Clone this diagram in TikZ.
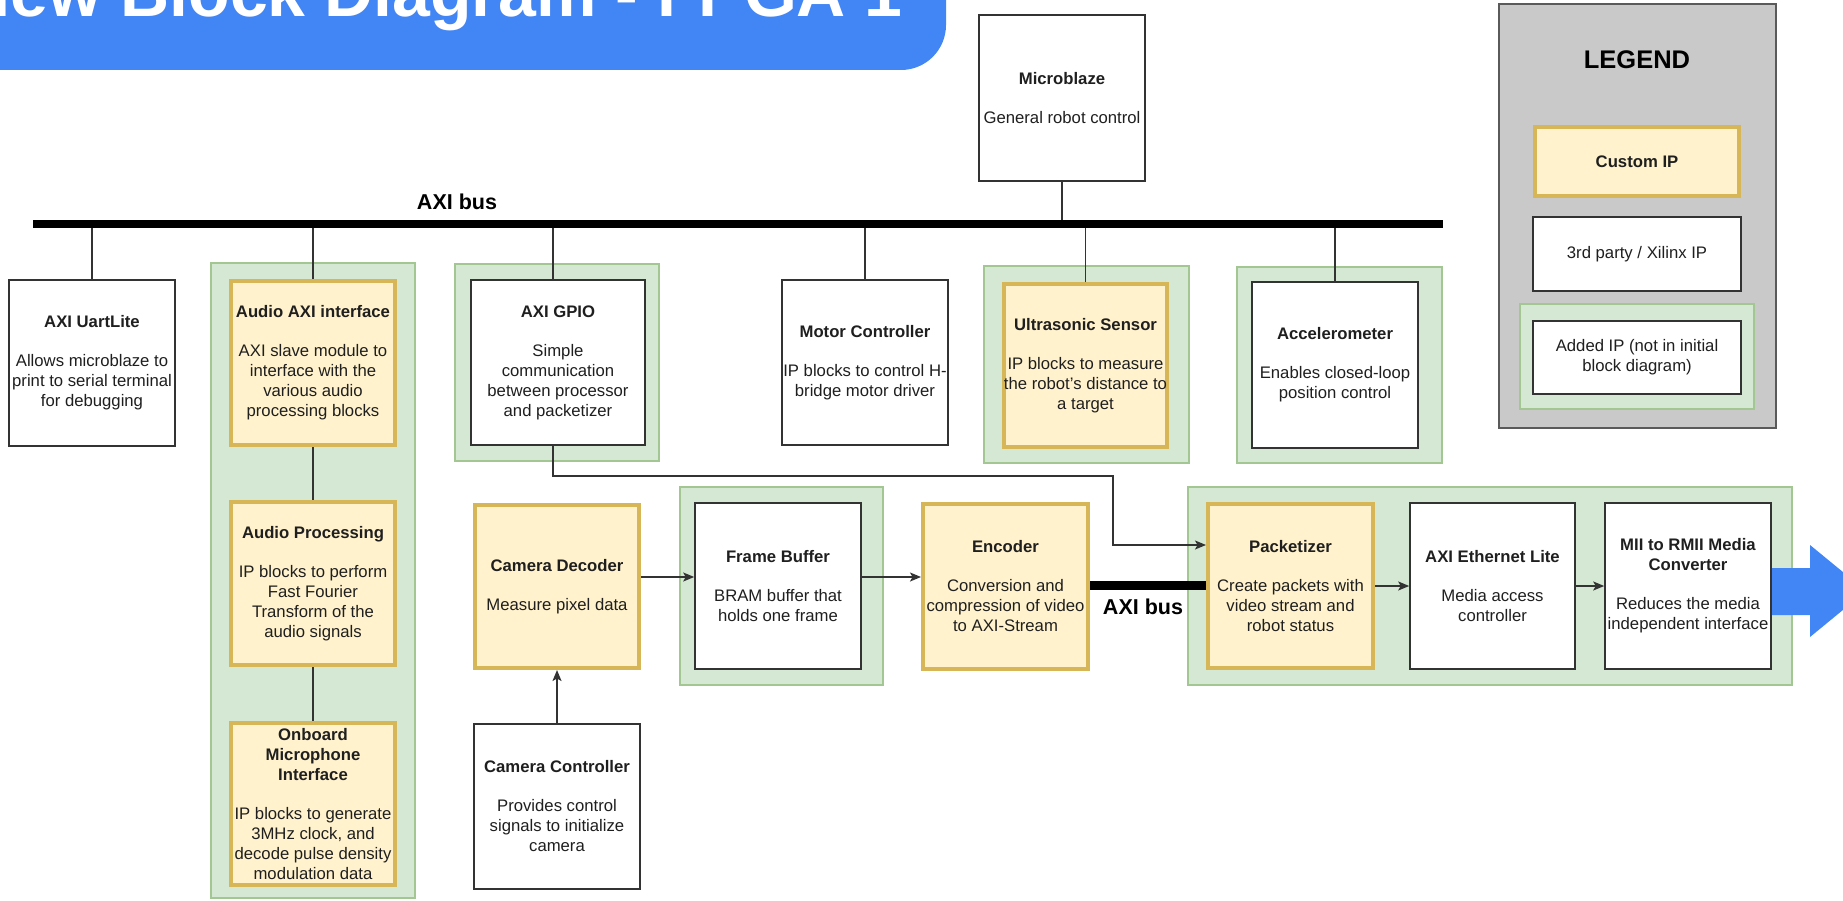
\documentclass[tikz,border=0pt]{standalone}
\usepackage{fontspec}
\setmainfont{Liberation Sans}
\usetikzlibrary{arrows.meta}

\definecolor{tblue}{HTML}{4285F4}
\definecolor{gfill}{HTML}{D5E8D4}
\definecolor{gdraw}{HTML}{A3C793}
\definecolor{yfill}{HTML}{FFF2CC}
\definecolor{ydraw}{HTML}{D6B656}
\definecolor{lgfill}{HTML}{C9C9C9}
\definecolor{lgdraw}{HTML}{5A5A5A}

\newcommand{\hd}[1]{\textbf{#1}}

\begin{document}
\begin{tikzpicture}[x=1pt,y=-1pt,
  ipbox/.style={align=center, inner sep=0pt, font=\fontsize{16.7}{20}\selectfont, text=black!88},
  wbox/.style={ipbox, draw=black!80, line width=1.6pt, fill=white},
  ybox/.style={ipbox, draw=ydraw, line width=4pt, fill=yfill},
  sz/.style 2 args={minimum width=#1pt, minimum height=#2pt},
  grp/.style={draw=gdraw, line width=1.2pt, fill=gfill},
  link/.style={draw=black!80, line width=1.5pt},
  arr/.style={link, -{Stealth[length=11pt,width=9pt,inset=2.5pt]}},
  bus/.style={line width=8pt, black},
  buslabel/.style={font=\fontsize{21.5}{24}\selectfont\bfseries},
]
\useasboundingbox (0,0) rectangle (1843,901);
\clip (0,0) rectangle (1843,901);

% title banner
\fill[tblue, rounded corners=45pt] (-120,-120) rectangle (946,70);
\node[anchor=base east, inner sep=0pt, text=white,
      font=\fontsize{68}{70}\selectfont\bfseries] (title) at (903,17) {New Block Diagram - FPGA 1};

% green groups (IP added later)
\draw[grp] (211,263) rectangle (415,898);
\draw[grp] (455,264) rectangle (659,461);
\draw[grp] (984,266) rectangle (1189,463);
\draw[grp] (1237,267) rectangle (1442,463);
\draw[grp] (680,487) rectangle (883,685);
\draw[grp] (1188,487) rectangle (1792,685);

% AXI bus
\coordinate (busL) at (33,224);
\coordinate (busR) at (1443,224);
\node[buslabel] (buslbl) at (457,202) {AXI bus};

% blocks on the AXI bus
\node[wbox, sz={166}{166}] (mblaze) at (1062,98) {\hd{Microblaze}\\[19pt]General robot control};
\node[wbox, sz={166}{166}] (uart) at (92,363) {\hd{AXI UartLite}\\[19pt]Allows microblaze to\\print to serial terminal\\for debugging};
\node[ybox, sz={164}{164}] (aaxi) at (313,363) {\hd{Audio AXI interface}\\[19pt]AXI slave module to\\interface with the\\various audio\\processing blocks};
\node[ybox, sz={164}{163}] (aproc) at (313,583.5) {\hd{Audio Processing}\\[19pt]IP blocks to perform\\Fast Fourier\\Transform of the\\audio signals};
\node[ybox, sz={164}{162}] (mic) at (313,804) {\hd{Onboard}\\\hd{Microphone}\\\hd{Interface}\\[19pt]IP blocks to generate\\3MHz clock, and\\decode pulse density\\modulation data};
\node[wbox, sz={174}{165}] (gpio) at (558,362.5) {\hd{AXI GPIO}\\[19pt]Simple\\communication\\between processor\\and packetizer};
\node[wbox, sz={166}{165}] (motor) at (865,362.5) {\hd{Motor Controller}\\[19pt]IP blocks to control H-\\bridge motor driver};
\node[ybox, sz={163}{163}] (ultra) at (1085.5,365.5) {\hd{Ultrasonic Sensor}\\[19pt]IP blocks to measure\\the robot's distance to\\a target};
\node[wbox, sz={166}{166}] (accel) at (1335,365) {\hd{Accelerometer}\\[19pt]Enables closed-loop\\position control};

% video path
\node[ybox, sz={164}{163}] (camdec) at (557,586.5) {\hd{Camera Decoder}\\[19pt]Measure pixel data};
\node[wbox, sz={166}{165}] (camctl) at (557,806.5) {\hd{Camera Controller}\\[19pt]Provides control\\signals to initialize\\camera};
\node[wbox, sz={166}{166}] (fbuf) at (778,586) {\hd{Frame Buffer}\\[19pt]BRAM buffer that\\holds one frame};
\node[ybox, sz={165}{165}] (enc) at (1005.5,586.5) {\hd{Encoder}\\[19pt]Conversion and\\compression of video\\to AXI-Stream};
\node[ybox, sz={165}{164}] (pkt) at (1290.5,586) {\hd{Packetizer}\\[19pt]Create packets with\\video stream and\\robot status};
\node[wbox, sz={165}{166}] (eth) at (1492.5,586) {\hd{AXI Ethernet Lite}\\[19pt]Media access\\controller};
\node[wbox, sz={166}{166}] (mii) at (1688,586) {\hd{MII to RMII Media}\\\hd{Converter}\\[19pt]Reduces the media\\independent interface};

% drops from the AXI bus
\draw[link] (mblaze.south) -- (mblaze.south |- busL);
\draw[link] (uart.north) -- (uart.north |- busL);
\draw[link] (aaxi.north) -- (aaxi.north |- busL);
\draw[link] ([xshift=-5pt]gpio.north) -- ([xshift=-5pt]gpio.north |- busL);
\draw[link] (motor.north) -- (motor.north |- busL);
\draw[link] (ultra.north) -- (ultra.north |- busL);
\draw[link] (accel.north) -- (accel.north |- busL);
\draw[bus] (busL) -- (busR);

% audio chain
\draw[link] (aaxi.south) -- (aproc.north);
\draw[link] (aproc.south) -- (mic.north);

% video chain
\draw[arr] (camctl.north) -- (camdec.south);
\draw[arr] ([yshift=9.5pt]camdec.east) -- ([yshift=9.5pt]camdec.east -| fbuf.west);
\draw[arr] ([yshift=9pt]fbuf.east) -- ([yshift=9pt]fbuf.east -| enc.west);
\draw[line width=9pt] ([yshift=1.5pt]enc.east) -- ([yshift=1.5pt]enc.east -| pkt.west);
\node[buslabel] (buslbl2) at (1143,607) {AXI bus};
\draw[arr] (pkt.east) -- (eth.west);
\draw[arr] (eth.east) -- (mii.west);

% GPIO to packetizer
\coordinate (gbend) at (1113,476);
\draw[arr] ([xshift=-5pt]gpio.south) |- (gbend) |- ([yshift=41pt]pkt.west);

% output arrow
\fill[tblue] (1772,568) -- (1810,568) -- (1810,545) -- (1866,591)
  -- (1810,637) -- (1810,615) -- (1772,615) -- cycle;

% legend
\draw[fill=lgfill, draw=lgdraw, line width=1.5pt] (1499,4) rectangle (1776,428);
\node[font=\fontsize{25.5}{28}\selectfont\bfseries] (lgtitle) at (1637,60) {LEGEND};
\node[ybox, sz={204}{69}] (lcustom) at (1637,161.5) {\hd{Custom IP}};
\node[wbox, sz={208}{74}] (lthird) at (1637,254) {3rd party / Xilinx IP};
\draw[grp] (1520,304) rectangle (1754,409);
\node[wbox, sz={208}{73}] (ladded) at (1637,357.5) {Added IP (not in initial\\block diagram)};
\end{tikzpicture}
\end{document}
